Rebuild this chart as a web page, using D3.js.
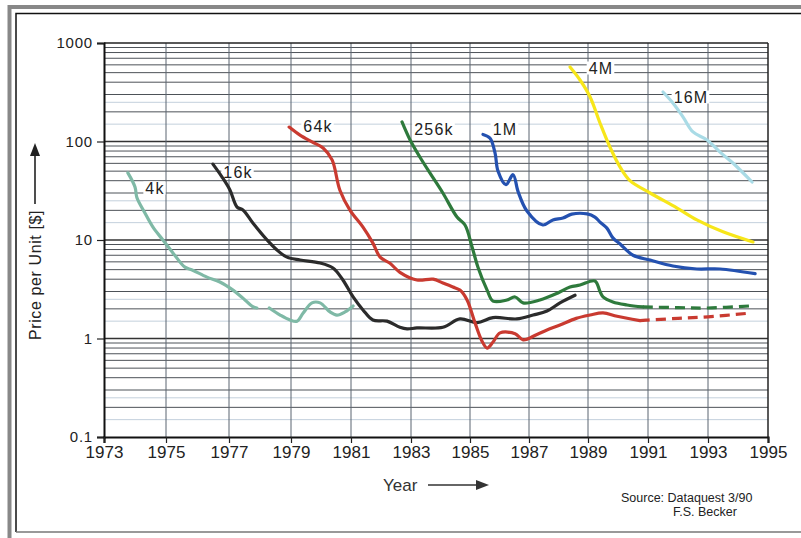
<!DOCTYPE html>
<html>
<head>
<meta charset="utf-8">
<script src="https://cdn.jsdelivr.net/npm/d3@7"></script>
<style>
  body { margin: 0; background: #fff; }
  svg { display: block; font-family: "Liberation Sans", Arial, sans-serif; }
</style>
</head>
<body>
<div id="chart"></div>
<script>
// ---- data (year, price in $) ----
const tickYears = [1973, 1975, 1977, 1979, 1981, 1983, 1985, 1987, 1989, 1991, 1993, 1995];
const tickPrices = [0.1, 1, 10, 100, 1000];
const tickPriceLabels = ['0.1', '1', '10', '100', '1000'];

const k4Year  = [1973.77, 1974.0, 1974.06, 1974.32, 1974.58, 1974.9, 1975.22, 1975.6, 1975.83, 1976.3, 1976.71, 1977.13, 1977.45, 1977.77, 1977.9, 1978.1, 1978.3, 1978.65, 1978.97, 1979.2, 1979.4, 1979.7, 1979.97, 1980.3, 1980.53, 1980.8, 1981.07];
const k4Price = [48, 34.5, 27, 18.8, 13.5, 10, 7.4, 5.3, 4.96, 4.2, 3.75, 3.1, 2.57, 2.1, 2.04, null, 2.04, 1.73, 1.54, 1.5, 1.8, 2.3, 2.3, 1.86, 1.73, 1.86, 2.14];

const k16Year  = [1976.49, 1976.78, 1977.03, 1977.26, 1977.45, 1977.77, 1978.23, 1978.55, 1978.87, 1979.3, 1979.97, 1980.4, 1980.73, 1981.07, 1981.4, 1981.73, 1982.2, 1982.63, 1982.87, 1983.2, 1984.08, 1984.66, 1985.24, 1985.78, 1986.59, 1987.14, 1987.61, 1988.05, 1988.56];
const k16Price = [59, 43.6, 32.2, 21.6, 20.2, 14.9, 10, 7.9, 6.7, 6.26, 5.84, 5.2, 3.93, 2.64, 1.95, 1.54, 1.5, 1.3, 1.25, 1.28, 1.3, 1.58, 1.45, 1.63, 1.58, 1.73, 1.9, 2.3, 2.75];

const k64Year  = [1978.94, 1979.3, 1979.7, 1980.07, 1980.37, 1980.63, 1980.97, 1981.4, 1981.73, 1981.97, 1982.3, 1982.63, 1983.2, 1983.75, 1984.08, 1984.42, 1984.66, 1984.9, 1985.17, 1985.4, 1985.58, 1985.78, 1986.02, 1986.53, 1986.8, 1987.27, 1987.61, 1988.05, 1988.6, 1989.07, 1989.5, 1989.97, 1990.73];
const k64Price = [140, 116, 99, 86, 65, 32, 20, 13.5, 9.3, 6.7, 5.8, 4.7, 3.93, 4.0, 3.66, 3.33, 3.1, 2.46, 1.44, 0.95, 0.8, 0.92, 1.14, 1.12, 0.97, 1.1, 1.22, 1.37, 1.6, 1.73, 1.82, 1.68, 1.52];
const k64FcYear  = [1990.73, 1991.0, 1992.0, 1993.0, 1994.4];
const k64FcPrice = [1.52, 1.54, 1.6, 1.66, 1.81];

const k256Year  = [1982.7, 1982.97, 1983.3, 1983.64, 1984.08, 1984.56, 1984.83, 1985.07, 1985.27, 1985.58, 1985.78, 1986.25, 1986.53, 1986.8, 1987.37, 1987.98, 1988.39, 1988.73, 1989.23, 1989.4, 1989.5, 1989.83, 1990.3, 1990.83];
const k256Price = [158, 103.5, 69.6, 48, 30, 17.1, 14.2, 8.5, 5.3, 3.1, 2.4, 2.46, 2.64, 2.3, 2.46, 2.9, 3.33, 3.49, 3.84, 3.0, 2.64, 2.35, 2.19, 2.09];
const k256FcYear  = [1990.83, 1992.0, 1993.0, 1994.4];
const k256FcPrice = [2.09, 2.06, 2.04, 2.14];

const m1Year  = [1985.44, 1985.68, 1985.85, 1985.95, 1986.22, 1986.46, 1986.63, 1986.93, 1987.47, 1987.81, 1988.15, 1988.45, 1988.97, 1989.23, 1989.4, 1989.63, 1989.83, 1990.07, 1990.5, 1991.07, 1991.83, 1992.63, 1993.4, 1994.57];
const m1Price = [118, 108, 76, 50, 36.5, 46, 31, 19.7, 14.2, 16, 16.7, 18.3, 18.4, 17.1, 15.2, 13.2, 10.5, 9.1, 7.0, 6.26, 5.45, 5.08, 5.08, 4.55];

const m4Year  = [1988.39, 1988.73, 1989.07, 1989.4, 1989.73, 1990.07, 1990.4, 1991.07, 1991.97, 1992.63, 1993.5, 1994.5];
const m4Price = [570, 421, 283, 154, 88, 55, 40, 30, 21.1, 16, 12.1, 9.55];

const m16Year  = [1991.5, 1991.83, 1992.17, 1992.5, 1992.97, 1993.4, 1993.83, 1994.47];
const m16Price = [318, 246, 177, 125, 103.5, 78, 60.5, 38.8];

const seriesNames = ['4k', '16k', '64k', '256k', '1M', '4M', '16M'];

// ---- layout ----
const W = 801, H = 538;
const svg = d3.select('#chart').append('svg').attr('width', W).attr('height', H);

// scanned paper is slightly uneven, so the year scale follows the printed ticks
const x = d3.scaleLinear()
  .domain(tickYears)
  .range([104, 166, 229, 291, 351, 411, 470, 529, 588, 648, 708, 768]);
const y = d3.scaleLog().domain([0.1, 1000]).range([437, 43]);

const zip = (xs, ys) => xs.map((v, i) => ({ year: v, price: ys[i] }));

// frame
svg.append('path').attr('d', `M9.5,${H} V7 H${W}`)
  .attr('fill', 'none').attr('stroke', '#888').attr('stroke-width', 4);
svg.append('path').attr('d', `M16,532 V13.5 H${W}`)
  .attr('fill', 'none').attr('stroke', '#111').attr('stroke-width', 1.5);
svg.append('line').attr('x1', 16).attr('x2', W).attr('y1', 532).attr('y2', 532)
  .attr('stroke', '#777').attr('stroke-width', 1.5);

// grid
const grid = svg.append('g');
const darkVals = [], lightVals = [];
[0.1, 1, 10, 100].forEach(d => {
  for (let m = 2; m <= 9; m++) darkVals.push(m * d);
  [1.5, 2.5].forEach(m => lightVals.push(m * d));
});
grid.selectAll('.hl').data(lightVals).enter().append('line')
  .attr('x1', 104).attr('x2', 768)
  .attr('y1', d => y(d)).attr('y2', d => y(d))
  .attr('stroke', '#c3d0dc').attr('stroke-width', 1);
grid.selectAll('.hd').data(darkVals).enter().append('line')
  .attr('x1', 104).attr('x2', 768)
  .attr('y1', d => y(d)).attr('y2', d => y(d))
  .attr('stroke', '#4d5258').attr('stroke-width', 1);
grid.selectAll('.hm').data([1, 10, 100]).enter().append('line')
  .attr('x1', 104).attr('x2', 768)
  .attr('y1', d => y(d)).attr('y2', d => y(d))
  .attr('stroke', '#333').attr('stroke-width', 1.3);
grid.selectAll('.vl').data(tickYears.slice(1, -1)).enter().append('line')
  .attr('x1', d => x(d)).attr('x2', d => x(d))
  .attr('y1', 43).attr('y2', 437)
  .attr('stroke', '#5a6470').attr('stroke-width', 1);

// border of plot
svg.append('line').attr('x1', 104).attr('x2', 768).attr('y1', 43).attr('y2', 43)
  .attr('stroke', '#222').attr('stroke-width', 1.5);
svg.append('line').attr('x1', 768).attr('x2', 768).attr('y1', 43).attr('y2', 437)
  .attr('stroke', '#222').attr('stroke-width', 1.5);

// axes
const yAxis = d3.axisLeft(y).tickValues(tickPrices)
  .tickFormat((d, i) => tickPriceLabels[i]).tickSize(7).tickPadding(4);
const gy = svg.append('g').attr('transform', 'translate(104,0)').call(yAxis);
gy.select('.domain').attr('stroke', '#111').attr('stroke-width', 2);
gy.selectAll('.tick line').attr('stroke', '#222').attr('stroke-width', 1.2);
gy.selectAll('text').attr('font-size', 15).attr('letter-spacing', 0.8)
  .attr('fill', '#222').attr('font-family', '"Liberation Sans", Arial, sans-serif');

const xAxis = d3.axisBottom(x).tickValues(tickYears).tickFormat(d3.format('d'))
  .tickSize(6).tickPadding(3);
const gx = svg.append('g').attr('transform', 'translate(0,437)').call(xAxis);
gx.select('.domain').attr('stroke', '#111').attr('stroke-width', 2.2);
gx.selectAll('.tick line').attr('stroke', '#222').attr('stroke-width', 1.2);
gx.selectAll('text').attr('font-size', 17).attr('fill', '#222')
  .attr('font-family', '"Liberation Sans", Arial, sans-serif');

// axis titles with arrows
svg.append('text').attr('transform', 'translate(41,275) rotate(-90)')
  .attr('text-anchor', 'middle').attr('font-size', 16).attr('letter-spacing', 0.6)
  .attr('fill', '#222').text('Price per Unit [$]');
svg.append('line').attr('x1', 35).attr('x2', 35).attr('y1', 204).attr('y2', 152)
  .attr('stroke', '#222').attr('stroke-width', 1.6);
svg.append('path').attr('d', 'M35,143 L30,156 L40,156 Z').attr('fill', '#222');

svg.append('text').attr('x', 383).attr('y', 491).attr('font-size', 17)
  .attr('fill', '#333').text('Year');
svg.append('line').attr('x1', 428).attr('x2', 478).attr('y1', 485).attr('y2', 485)
  .attr('stroke', '#333').attr('stroke-width', 1.6);
svg.append('path').attr('d', 'M489,485 L476,480 L476,490 Z').attr('fill', '#333');

// source note
svg.append('text').attr('x', 621).attr('y', 502).attr('font-size', 12.5)
  .attr('fill', '#222').text('Source: Dataquest 3/90');
svg.append('text').attr('x', 673).attr('y', 516).attr('font-size', 12.5)
  .attr('fill', '#222').text('F.S. Becker');

// series labels with white boxes
const labelPos = [[155, 188], [238, 172], [318, 126], [434, 129], [505, 129], [601, 68], [691, 97]];
const labels = svg.append('g');
seriesNames.forEach((name, i) => {
  const t = labels.append('text').attr('x', labelPos[i][0]).attr('y', labelPos[i][1])
    .attr('text-anchor', 'middle').attr('dominant-baseline', 'central')
    .attr('font-size', 16).attr('letter-spacing', 1.2).attr('fill', '#222').text(name);
  const b = t.node().getBBox();
  labels.insert('rect', 'text').attr('x', b.x - 2).attr('y', b.y + 2)
    .attr('width', b.width + 3).attr('height', b.height - 4).attr('fill', '#fff');
});

// curves
const line = d3.line()
  .defined(d => d.price != null)
  .x(d => x(d.year)).y(d => y(d.price))
  .curve(d3.curveCatmullRom.alpha(0.5));

const curves = [
  { data: zip(k4Year, k4Price), color: '#7fb9a6' },
  { data: zip(k16Year, k16Price), color: '#2b2b2b' },
  { data: zip(k64Year, k64Price), color: '#c93a30' },
  { data: zip(k64FcYear, k64FcPrice), color: '#c93a30', dash: '10,6' },
  { data: zip(k256Year, k256Price), color: '#2e7a3c' },
  { data: zip(k256FcYear, k256FcPrice), color: '#2e7a3c', dash: '10,6' },
  { data: zip(m1Year, m1Price), color: '#2451b0' },
  { data: zip(m4Year, m4Price), color: '#f7e61a' },
  { data: zip(m16Year, m16Price), color: '#a9dbe6' }
];

svg.append('g').selectAll('path').data(curves).enter().append('path')
  .attr('d', d => line(d.data))
  .attr('fill', 'none')
  .attr('stroke', d => d.color)
  .attr('stroke-width', 3.2)
  .attr('stroke-linecap', d => d.dash ? 'butt' : 'round')
  .attr('stroke-linejoin', 'round')
  .attr('stroke-dasharray', d => d.dash || null);
</script>
</body>
</html>
